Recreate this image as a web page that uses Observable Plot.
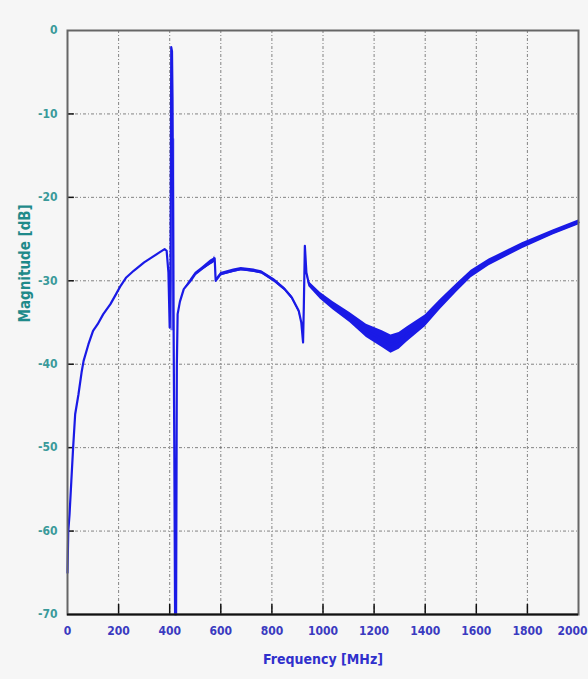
<!DOCTYPE html>
<html>
<head>
<meta charset="utf-8">
<script src="https://cdn.jsdelivr.net/npm/d3@7"></script>
<script src="https://cdn.jsdelivr.net/npm/@observablehq/plot@0.6"></script>
<style>
  html, body { margin: 0; padding: 0; background: #f6f6f6; }
  #chart svg { display: block; }
</style>
</head>
<body>
<div id="chart"></div>
<script>
// Frequency (MHz), magnitude (dB), and half-width of the noise band (dB)
const freq = [0,3,8,15,22,30,43,55,63,82,100,118,140,168,190,208,230,259,300,330,360,380,388,395,400,403,406,409,411,413,415,418,421,425,428,431,440,455,482,500,525,560,572,576,580,585,600,650,680,730,760,811,850,878,905,915,922,925,929,935,945,990,1040,1105,1170,1232,1266,1298,1330,1400,1460,1525,1580,1650,1780,1900,2000];
const mag  = [-65,-60,-58,-54,-50,-46,-43.6,-41,-39.6,-37.6,-36,-35.2,-34,-32.8,-31.6,-30.6,-29.6,-28.8,-27.8,-27.2,-26.6,-26.2,-26.4,-29,-35.6,-30,-2,-2.5,-8,-20,-34,-50,-70,-70,-40,-34,-32.5,-31,-30,-29.2,-28.6,-27.8,-27.6,-27.3,-30,-29.8,-29.2,-28.8,-28.6,-28.8,-29,-30,-31,-32,-33.6,-35,-37.4,-33,-25.8,-29,-30.4,-31.8,-33,-34.4,-36,-37,-37.6,-37.2,-36.4,-34.8,-32.8,-30.8,-29.2,-27.8,-25.8,-24.2,-23];
const spread = [0,0,0,0,0,0,0,0,0,0,0,0,0,0,0,0,0,0,0,0,0,0,0,0,0,0,0,0,0,0,0,0,0,0,0,0,0,0,0.2,0.2,0.2,0.3,0.3,0.3,0.2,0.2,0.2,0.2,0.2,0.2,0.2,0.2,0.2,0.2,0.2,0,0,0,0,0.2,0.3,0.4,0.5,0.6,0.8,1.0,1.1,1.0,0.9,0.7,0.6,0.5,0.45,0.4,0.35,0.3,0.3];

// Dense oscillation fill around the resonance spike
const spikeFreq = [404, 412, 420];
const spikeLow  = [-36, -36, -36];
const spikeHigh = [-13, -13, -13];

const xTicks = [0,200,400,600,800,1000,1200,1400,1600,1800,2000];
const yTicks = [0,-10,-20,-30,-40,-50,-60,-70];

const data = freq.map((f, i) => ({f, m: mag[i], lo: mag[i] - spread[i], hi: mag[i] + spread[i]}));
const spike = spikeFreq.map((f, i) => ({f, lo: spikeLow[i], hi: spikeHigh[i]}));

const font = "'Liberation Sans Narrow', 'DejaVu Sans Condensed', 'Liberation Sans', sans-serif";

const chart = Plot.plot({
  width: 588,
  height: 679,
  marginLeft: 67,
  marginRight: 10,
  marginTop: 30,
  marginBottom: 65,
  style: {background: "#f6f6f6", fontFamily: font},
  x: {domain: [0, 2000], ticks: xTicks},
  y: {domain: [-70, 0], ticks: yTicks},
  marks: [
    Plot.ruleX(xTicks.slice(1, -1), {stroke: "#666", strokeWidth: 1, strokeDasharray: "3,2,1,2", strokeOpacity: 0.8}),
    Plot.ruleY(yTicks.slice(1, -1), {stroke: "#666", strokeWidth: 1, strokeDasharray: "3,2,1,2", strokeOpacity: 0.8}),
    Plot.ruleX(xTicks.slice(1, -1), {y1: -70, y2: -68.8, stroke: "#111", strokeWidth: 1.5}),
    Plot.ruleY(yTicks.slice(1, -1), {x1: 0, x2: 27, stroke: "#111", strokeWidth: 1.5}),
    Plot.areaY(spike, {x: "f", y1: "lo", y2: "hi", fill: "#6a6af0", fillOpacity: 0.85}),
    Plot.areaY(data, {x: "f", y1: "lo", y2: "hi", fill: "#1a1ae6"}),
    Plot.line(data, {x: "f", y: "m", stroke: "#1a1ae6", strokeWidth: 2.2}),
    Plot.frame({stroke: "#666", strokeWidth: 2}),
    Plot.ruleY([-70], {stroke: "#111", strokeWidth: 2}),
    Plot.axisX(xTicks.slice(0, -1), {tickSize: 0, tickPadding: 12, fontSize: 12, fontWeight: "bold", fill: "#3a3ac0",
      label: null, tickFormat: d => String(d)}),
    Plot.axisX(xTicks.slice(-1), {tickSize: 0, tickPadding: 12, fontSize: 12, fontWeight: "bold", fill: "#3a3ac0",
      label: null, textAnchor: "end", dx: 9, tickFormat: d => String(d)}),
    Plot.axisY(yTicks, {tickSize: 0, tickPadding: 10, fontSize: 12, fontWeight: "bold", fill: "#3a9a9a",
      label: null, tickFormat: d => d === 0 ? "0" : "-" + Math.abs(d)}),
    Plot.text(["Frequency [MHz]"], {frameAnchor: "bottom", dy: 49, fontSize: 14, fontWeight: "bold", fill: "#3030cc", fontFamily: font}),
    Plot.text(["Magnitude [dB]"], {frameAnchor: "left", dx: -42, rotate: -90, fontSize: 15, fontWeight: "bold", fill: "#1f8a8a", fontFamily: font})
  ]
});
document.getElementById("chart").appendChild(chart);
</script>
</body>
</html>
